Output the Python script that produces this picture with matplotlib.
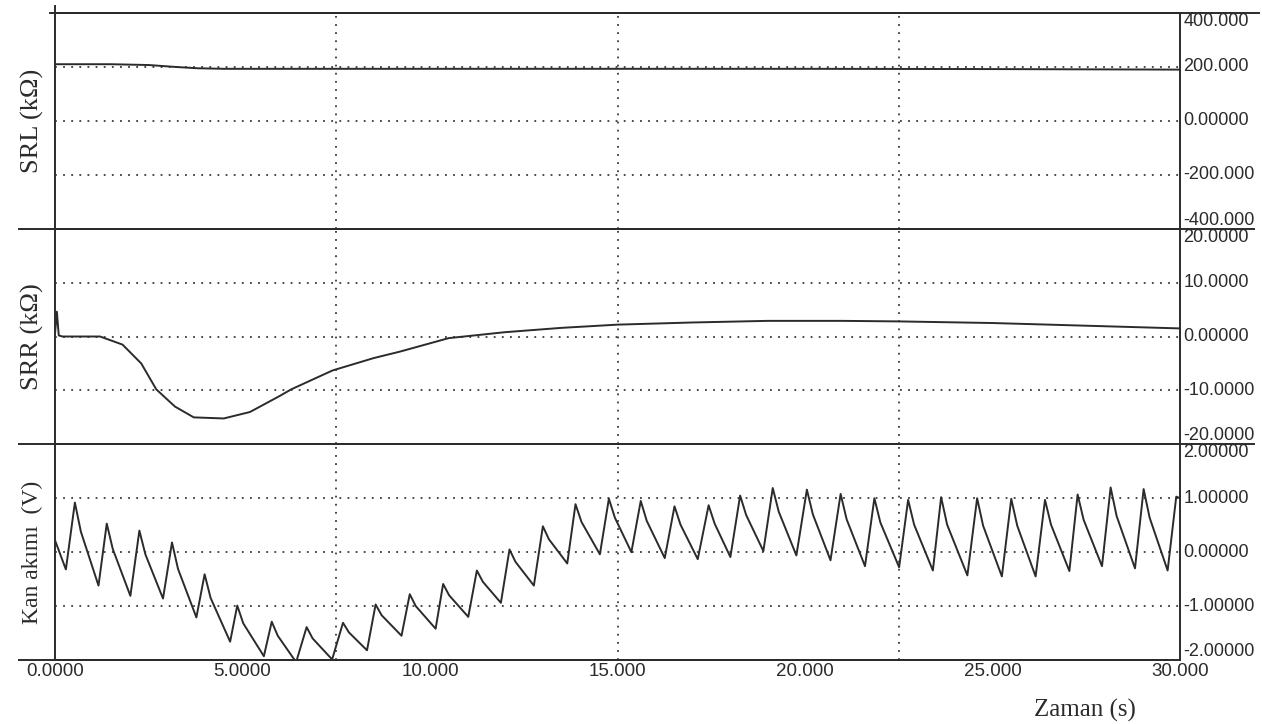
import numpy as np
import matplotlib
matplotlib.use("Agg")
import matplotlib.pyplot as plt
from matplotlib.lines import Line2D

# SRL (kOhm) vs time (s)
srl_t = [0, 1.5, 2.5, 3.2, 3.8, 4.5, 6, 10, 15, 20, 25, 30]
srl_v = [210, 210, 207, 200, 195, 193, 193, 193, 193, 193, 192, 190]

# SRR (kOhm) vs time (s)
srr_t = [0, 0.05, 0.1, 0.2, 1.2, 1.8, 2.3, 2.7, 3.2, 3.7, 4.5, 5.2, 6.0, 6.3,
         7.4, 8.5, 9.2, 10.5, 12.0, 13.5, 15, 17, 19, 21, 22.5, 25, 27.5, 30]
srr_v = [0.5, 4.6, 0.2, 0, 0, -1.5, -5, -9.8, -13, -15, -15.2, -14, -11, -9.8,
         -6.3, -4, -2.8, -0.3, 0.8, 1.6, 2.2, 2.6, 2.9, 2.9, 2.8, 2.5, 2.0, 1.5]

# Kan akimi (V): start point, beat troughs, peaks and post-peak shoulders
flow_start = (0.0, 0.22)
trough_t = [0.29, 1.16, 2.01, 2.88, 3.77, 4.67, 5.57, 6.43, 7.39, 8.32, 9.24,
            10.15, 11.02, 11.89, 12.77, 13.66, 14.53, 15.37, 16.26, 17.14,
            18.01, 18.89, 19.77, 20.68, 21.60, 22.51, 23.41, 24.33, 25.25,
            26.15, 27.05, 27.92, 28.80, 29.67]
trough_v = [-0.32, -0.62, -0.81, -0.86, -1.21, -1.66, -1.93, -2.04, -1.99,
            -1.82, -1.55, -1.42, -1.20, -0.94, -0.62, -0.21, -0.04, 0.00,
            -0.11, -0.13, -0.09, 0.02, -0.06, -0.15, -0.26, -0.28, -0.34,
            -0.43, -0.45, -0.45, -0.35, -0.26, -0.30, -0.34]
peak_t = [0.53, 1.38, 2.25, 3.12, 3.99, 4.86, 5.78, 6.71, 7.68, 8.55, 9.46,
          10.35, 11.25, 12.12, 13.01, 13.88, 14.77, 15.62, 16.52, 17.43,
          18.27, 19.14, 20.05, 20.95, 21.85, 22.75, 23.63, 24.59, 25.50,
          26.40, 27.27, 28.15, 29.03, 29.90]
peak_v = [0.92, 0.53, 0.40, 0.18, -0.41, -0.99, -1.29, -1.39, -1.31, -0.97,
          -0.78, -0.59, -0.34, 0.05, 0.48, 0.89, 0.99, 0.95, 0.85, 0.87, 1.05,
          1.19, 1.16, 1.08, 1.00, 0.97, 1.02, 1.00, 0.99, 0.97, 1.07, 1.20,
          1.17, 1.03]
shoulder_v = [0.38, 0.06, -0.04, -0.31, -0.85, -1.32, -1.55, -1.60, -1.49,
              -1.17, -1.00, -0.80, -0.55, -0.18, 0.24, 0.56, 0.64, 0.58, 0.51,
              0.53, 0.69, 0.75, 0.70, 0.61, 0.55, 0.51, 0.51, 0.49, 0.49, 0.51,
              0.60, 0.67, 0.64]
flow_end = (30.0, 1.0)

x_ticks = [0, 5, 10, 15, 20, 25, 30]
x_labels = ["0.0000", "5.0000", "10.000", "15.000", "20.000", "25.000", "30.000"]
x_grid = [7.5, 15, 22.5]

panels = [
    ("SRL (kΩ)", 19, (-400, 400), [-200, 0, 200],
     ["400.000", "200.000", "0.00000", "-200.000", "-400.000"]),
    ("SRR (kΩ)", 19, (-20, 20), [-10, 0, 10],
     ["20.0000", "10.0000", "0.00000", "-10.0000", "-20.0000"]),
    ("Kan akımı  (V)", 17, (-2, 2), [-1, 0, 1],
     ["2.00000", "1.00000", "0.00000", "-1.00000", "-2.00000"]),
]

# build the flow polyline
ft, fv = [flow_start[0]], [flow_start[1]]
for i in range(len(trough_t)):
    ft += [trough_t[i], peak_t[i]]
    fv += [trough_v[i], peak_v[i]]
    if i < len(shoulder_v):
        ft.append(peak_t[i] + 0.16)
        fv.append(shoulder_v[i])
ft.append(flow_end[0]); fv.append(flow_end[1])

INK = "#2b2b2b"
GRID = "#3a3a3a"
SANS = "Liberation Sans"
SERIF = "Liberation Serif"

fig = plt.figure(figsize=(12.62, 7.24), dpi=100)
L, R, T, B = 55 / 1262, 1180 / 1262, 1 - 13 / 724, 1 - 660 / 724
h = (T - B) / 3
series = [(srl_t, srl_v), (srr_t, srr_v), (ft, fv)]
axes = []
for k, (label, lsize, ylim, inner, rlabels) in enumerate(panels):
    ax = fig.add_axes([L, T - (k + 1) * h, R - L, h])
    axes.append(ax)
    ax.set_xlim(0, 30)
    ax.set_ylim(*ylim)
    for v in inner:
        ax.axhline(v, color=GRID, lw=1.3, ls=(0, (1, 3.5)), zorder=1)
    for x in x_grid:
        ax.axvline(x, color=GRID, lw=1.3, ls=(0, (1, 3.5)), zorder=1)
    t, v = series[k]
    ax.plot(t, v, color=INK, lw=1.4, zorder=3, clip_on=True)
    ax.set_yticks([])
    for s in ax.spines.values():
        s.set_color(INK)
        s.set_linewidth(1.4)
    # right-hand value labels
    vals = [ylim[1]] + sorted(inner, reverse=True) + [ylim[0]]
    for j, (val, txt) in enumerate(zip(vals, rlabels)):
        va = "top" if j == 0 else ("bottom" if j == len(vals) - 1 else "center")
        ax.text(1.003, val, txt, transform=ax.get_yaxis_transform(),
                ha="left", va=va, fontsize=13, family=SANS, color=INK)
    fig.text(0.026, T - (k + 0.5) * h, label, rotation=90, ha="center",
             va="center", fontsize=lsize, family=SERIF, color=INK)
    if k < 2:
        ax.set_xticks([])
    else:
        ax.set_xticks(x_ticks)
        ax.set_xticklabels(x_labels, family=SANS, fontsize=13.5, color=INK)
        ax.tick_params(axis="x", length=0, pad=2)

# extended frame lines like the original chart recorder printout
for y, x0, x1 in [(T, 0.04, 0.998), (T - h, 0.015, 0.994),
                  (T - 2 * h, 0.015, 0.994), (B, 0.015, 0.925)]:
    fig.add_artist(Line2D([x0, x1], [y, y], color=INK, lw=1.4,
                          transform=fig.transFigure))
fig.add_artist(Line2D([L, L], [T, 1 - 6 / 724], color=INK, lw=1.4,
                      transform=fig.transFigure))

fig.text(1085 / 1262, 1 - 710 / 724, "Zaman (s)", ha="center", va="center",
         fontsize=18, family=SERIF, color=INK)

fig.savefig("out.png", dpi=100)
